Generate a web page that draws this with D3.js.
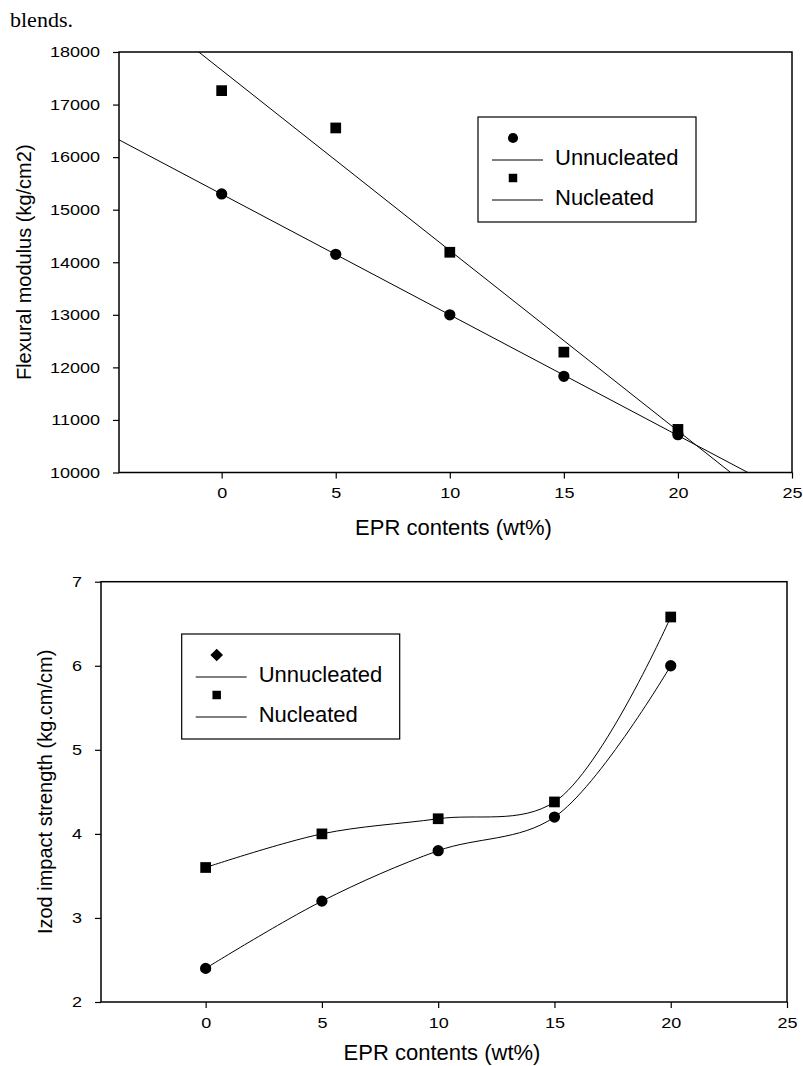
<!DOCTYPE html>
<html>
<head>
<meta charset="utf-8">
<script src="https://cdn.jsdelivr.net/npm/d3@7"></script>
<style>
	body { margin: 0; background: white; }
	text { font-family: "Liberation Sans", Arial, sans-serif; fill: black; }
</style>
</head>
<body>
<script>
/* Data */
var epr = [0, 5, 10, 15, 20];
var xTicks = [0, 5, 10, 15, 20, 25];

var flexUnnucleated = [15300, 14150, 13000, 11830, 10720];
var flexNucleated = [17265, 16555, 14190, 12290, 10820];
var flexTicks = [10000, 11000, 12000, 13000, 14000, 15000, 16000, 17000, 18000];

var izodUnnucleated = [2.4, 3.2, 3.8, 4.2, 6.0];
var izodNucleated = [3.6, 4.0, 4.18, 4.38, 6.58];
var izodTicks = [2, 3, 4, 5, 6, 7];

var seriesNames = ["Unnucleated", "Nucleated"];

/* Display setup */
var svg = d3.select("body").append("svg")
	.attr("width", 803)
	.attr("height", 1066);

svg.append("text")
	.attr("x", 10)
	.attr("y", 27)
	.style("font-family", "'Liberation Serif', 'Times New Roman', serif")
	.style("font-size", "22px")
	.text("blends.");

var topView = {left: 119, right: 792, top: 52, bottom: 472.5, ydomain: [10000, 18000], yticks: flexTicks,
		ylabel: "Flexural modulus (kg/cm2)", ylabelX: 31, xlabelY: 535, id: "clipTop"},
	bottomView = {left: 101, right: 787, top: 581.7, bottom: 1002, ydomain: [2, 7], yticks: izodTicks,
		ylabel: "Izod impact strength (kg.cm/cm)", ylabelX: 52, xlabelY: 1060, id: "clipBottom"};

// stretch glyphs horizontally, the scanned fonts are wider than Arial
function stretch(sel, k) {
	sel.each(function() {
		var w = this.getComputedTextLength();
		d3.select(this).attr("textLength", w * k).attr("lengthAdjust", "spacingAndGlyphs");
	});
}

function setupView(v) {
	v.x = d3.scaleLinear().domain([-4.5, 25]).range([v.left, v.right]);
	v.y = d3.scaleLinear().domain(v.ydomain).range([v.bottom, v.top]);

	svg.append("clipPath").attr("id", v.id)
		.append("rect")
			.attr("x", v.left).attr("y", v.top)
			.attr("width", v.right - v.left).attr("height", v.bottom - v.top);

	var xAxis = svg.append("g")
		.attr("transform", "translate(0," + v.bottom + ")")
		.call(d3.axisBottom(v.x).tickValues(xTicks).tickSize(6).tickSizeOuter(0).tickPadding(9));
	var yAxis = svg.append("g")
		.attr("transform", "translate(" + v.left + ",0)")
		.call(d3.axisLeft(v.y).tickValues(v.yticks).tickFormat(d3.format("d")).tickSize(6).tickSizeOuter(0).tickPadding(13));

	[xAxis, yAxis].forEach(function(a) {
		a.select(".domain").remove();
		a.selectAll("line").attr("stroke", "black").attr("stroke-width", 1.2);
		a.selectAll("text")
			.style("font-size", "15px")
			.style("font-family", "'Liberation Sans', Arial, sans-serif")
			.attr("fill", "black")
			.call(stretch, 1.2);
	});

	svg.append("rect")
		.attr("x", v.left).attr("y", v.top)
		.attr("width", v.right - v.left).attr("height", v.bottom - v.top)
		.style("fill", "none")
		.style("stroke", "black")
		.style("stroke-width", 1.5);

	svg.append("text")
		.attr("x", (v.left + v.right) / 2 - 2)
		.attr("y", v.xlabelY)
		.attr("text-anchor", "middle")
		.style("font-size", "22px")
		.text("EPR contents (wt%)");

	svg.append("text")
		.attr("transform", "translate(" + v.ylabelX + "," + (v.top + v.bottom) / 2 + ") rotate(-90)")
		.attr("text-anchor", "middle")
		.style("font-size", "20px")
		.text(v.ylabel);
}

function drawMarkers(v, values, shape, size) {
	svg.append("g").selectAll("path")
		.data(values)
		.enter().append("path")
			.attr("d", d3.symbol().type(shape).size(size))
			.attr("transform", function(d, i) { return "translate(" + v.x(epr[i]) + "," + v.y(d) + ")"; })
			.style("fill", "black");
}

function drawLegend(x0, y0, markers) {
	var g = svg.append("g").attr("transform", "translate(" + x0 + "," + y0 + ")");
	g.append("rect")
		.attr("width", 218).attr("height", 105)
		.style("fill", "white").style("stroke", "black").style("stroke-width", 1.2);
	seriesNames.forEach(function(name, i) {
		var dy = i * 40;
		g.append("path")
			.attr("d", d3.symbol().type(markers[i].shape).size(markers[i].size))
			.attr("transform", "translate(35," + (21 + dy) + ")" + (markers[i].rotate ? " rotate(45)" : ""))
			.style("fill", "black");
		g.append("line")
			.attr("x1", 14).attr("x2", 65)
			.attr("y1", 43 + dy).attr("y2", 43 + dy)
			.style("stroke", "black");
		g.append("text")
			.attr("x", 77)
			.attr("y", 40 + dy)
			.attr("dy", "0.36em")
			.style("font-size", "22px")
			.text(name);
	});
}

/* Flexural modulus with least squares lines */
setupView(topView);

function fitLine(xs, ys) {
	var mx = d3.mean(xs), my = d3.mean(ys);
	var sxy = d3.sum(xs, function(d, i) { return (d - mx) * (ys[i] - my); });
	var sxx = d3.sum(xs, function(d) { return (d - mx) * (d - mx); });
	var slope = sxy / sxx;
	return function(x) { return my + slope * (x - mx); };
}

[flexUnnucleated, flexNucleated].forEach(function(values) {
	var f = fitLine(epr, values);
	var ends = topView.x.domain();
	svg.append("line")
		.attr("clip-path", "url(#clipTop)")
		.attr("x1", topView.x(ends[0])).attr("y1", topView.y(f(ends[0])))
		.attr("x2", topView.x(ends[1])).attr("y2", topView.y(f(ends[1])))
		.style("stroke", "black")
		.style("stroke-width", 1);
});

drawMarkers(topView, flexUnnucleated, d3.symbolCircle, 100);
drawMarkers(topView, flexNucleated, d3.symbolSquare, 115);

drawLegend(478, 117, [{shape: d3.symbolCircle, size: 80}, {shape: d3.symbolSquare, size: 72}]);

/* Izod impact strength with smooth curves */
setupView(bottomView);

var curve = d3.line()
	.x(function(d, i) { return bottomView.x(epr[i]); })
	.y(function(d) { return bottomView.y(d); })
	.curve(d3.curveCatmullRom);

[izodUnnucleated, izodNucleated].forEach(function(values) {
	svg.append("path")
		.attr("d", curve(values))
		.attr("clip-path", "url(#clipBottom)")
		.style("fill", "none")
		.style("stroke", "black")
		.style("stroke-width", 1);
});

drawMarkers(bottomView, izodUnnucleated, d3.symbolCircle, 100);
drawMarkers(bottomView, izodNucleated, d3.symbolSquare, 115);

drawLegend(181.7, 634, [{shape: d3.symbolSquare, size: 80, rotate: true}, {shape: d3.symbolSquare, size: 72}]);
</script>
</body>
</html>
